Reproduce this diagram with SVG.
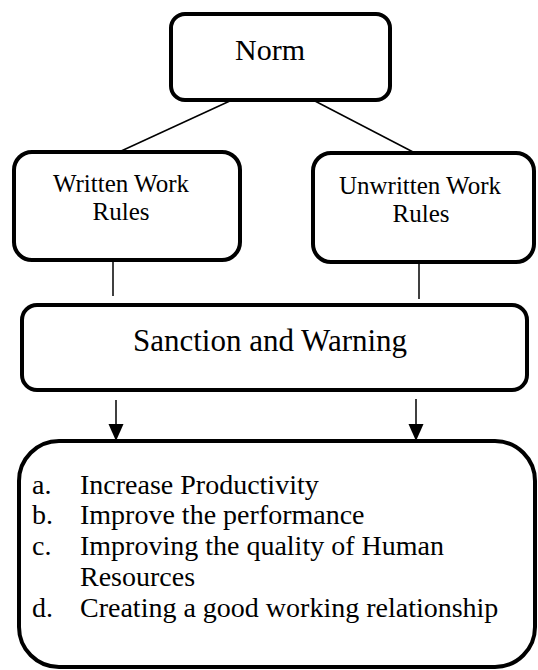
<svg xmlns="http://www.w3.org/2000/svg" width="538" height="670" viewBox="0 0 538 670">
<defs>
<style>
.box{fill:#fff;stroke:#000;stroke-width:4}
.ln{stroke:#000;stroke-width:1.5;fill:none}
.head{fill:#000}
text{font-family:"Liberation Serif","Times New Roman",serif;fill:#000}
.c{text-anchor:middle}
</style>
</defs>
<rect width="538" height="670" fill="#fff"/>
<g id="connectors">
<line class="ln" x1="232" y1="100" x2="119" y2="152"/>
<line class="ln" x1="313" y1="100" x2="415" y2="153"/>
<line class="ln" x1="113" y1="260" x2="113" y2="296"/>
<line class="ln" x1="419" y1="262" x2="419" y2="299"/>
<line class="ln" x1="116" y1="400" x2="116" y2="425"/>
<path class="head" d="M108.5,424 L123.5,424 L116,441 Z"/>
<line class="ln" x1="416" y1="399" x2="416" y2="425"/>
<path class="head" d="M408.5,424 L423.5,424 L416,441 Z"/>
</g>
<g id="norm">
<rect class="box" x="171" y="14" width="219" height="86" rx="14"/>
<text class="c" x="270" y="60" font-size="30">Norm</text>
</g>
<g id="written">
<rect class="box" x="14" y="152" width="226" height="108" rx="18"/>
<text class="c" x="121" y="192" font-size="25">Written Work</text>
<text class="c" x="121" y="220" font-size="25">Rules</text>
</g>
<g id="unwritten">
<rect class="box" x="313" y="153" width="221" height="109" rx="18"/>
<text class="c" x="420" y="194" font-size="25">Unwritten Work</text>
<text class="c" x="421" y="222" font-size="25">Rules</text>
</g>
<g id="sanction">
<rect class="box" x="22" y="305" width="505" height="85" rx="15"/>
<text class="c" x="270" y="351" font-size="31">Sanction and Warning</text>
</g>
<g id="outcomes">
<rect class="box" x="19" y="441" width="516" height="226" rx="40"/>
<text font-size="28">
<tspan x="32" y="494">a.</tspan><tspan x="80" y="494">Increase Productivity</tspan>
<tspan x="32" y="524">b.</tspan><tspan x="80" y="524">Improve the performance</tspan>
<tspan x="32" y="555">c.</tspan><tspan x="80" y="555">Improving the quality of Human</tspan>
<tspan x="80" y="586">Resources</tspan>
<tspan x="32" y="617">d.</tspan><tspan x="80" y="617">Creating a good working relationship</tspan>
</text>
</g>
</svg>
